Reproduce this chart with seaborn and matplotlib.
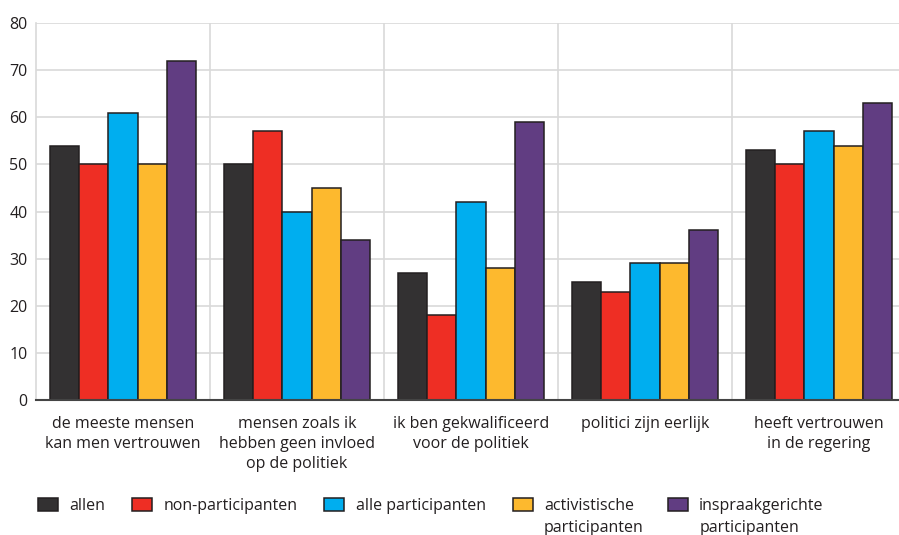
import matplotlib
matplotlib.use("Agg")
import matplotlib.pyplot as plt
import seaborn as sns
import pandas as pd
import numpy as np

categories = [
    "de meeste mensen\nkan men vertrouwen",
    "mensen zoals ik\nhebben geen invloed\nop de politiek",
    "ik ben gekwalificeerd\nvoor de politiek",
    "politici zijn eerlijk",
    "heeft vertrouwen\nin de regering",
]
series = ["allen", "non-participanten", "alle participanten",
          "activistische participanten", "inspraakgerichte participanten"]
legend_first = ["allen", "non-participanten", "alle participanten",
                "activistische", "inspraakgerichte"]
legend_second = ["", "", "", "participanten", "participanten"]
allen = [54, 50, 27, 25, 53]
non_participanten = [50, 57, 18, 23, 50]
alle_participanten = [61, 40, 42, 29, 57]
activistische = [50, 45, 28, 29, 54]
inspraakgerichte = [72, 34, 59, 36, 63]
colors = ["#333132", "#ee2e24", "#00aeef", "#fdb92e", "#613d82"]
yticks = [0, 10, 20, 30, 40, 50, 60, 70, 80]

values = [allen, non_participanten, alle_participanten, activistische, inspraakgerichte]
rows = []
for s, vals in zip(series, values):
    for c, v in zip(categories, vals):
        rows.append({"cat": c, "series": s, "val": v})
df = pd.DataFrame(rows)

sns.set_theme(style="white")
plt.rcParams["font.family"] = ["Open Sans", "DejaVu Sans"]
text_color = "#231f20"
fs = 11.5

W, H = 899, 535
fig = plt.figure(figsize=(W / 100, H / 100), dpi=100)
ax = fig.add_axes([36 / W, 1 - 400 / H, 1 - 36 / W, (400 - 23) / H])

sns.barplot(data=df, x="cat", y="val", hue="series", order=categories,
            hue_order=series, palette=colors, saturation=1, width=0.84,
            edgecolor="#231f20", linewidth=1.1, ax=ax, legend=True, zorder=3)

ax.set_xlim(-0.5, -0.5 + 863 / 174)
ax.set_ylim(0, 80)
ax.set_yticks(yticks)
ax.set_yticklabels([str(t) for t in yticks], fontsize=fs, color=text_color)
ax.set_xticks(range(len(categories)))
ax.set_xticklabels(categories, fontsize=fs, color=text_color, linespacing=1.35)
ax.set_xticks(np.arange(0.5, len(categories) - 0.5, 1), minor=True)
ax.set_xlabel("")
ax.set_ylabel("")

ax.grid(axis="y", which="major", color="#d9d9d9", linewidth=1.2, zorder=0)
ax.grid(axis="x", which="minor", color="#d9d9d9", linewidth=1.2, zorder=0)
ax.grid(axis="x", which="major", visible=False)
ax.set_axisbelow(True)
ax.tick_params(axis="y", length=0, pad=6)
ax.tick_params(axis="x", which="major", length=5.5, width=1, color=text_color, pad=6, direction="out")
ax.tick_params(axis="x", which="minor", length=0)

for side in ["top", "right"]:
    ax.spines[side].set_visible(False)
ax.spines["left"].set_color("#d9d9d9")
ax.spines["left"].set_linewidth(1.2)
ax.spines["bottom"].set_color("#444444")
ax.spines["bottom"].set_linewidth(1.5)
ax.spines["bottom"].set_zorder(5)

handles, labels = ax.get_legend_handles_labels()
ax.get_legend().remove()
leg_kw = dict(loc="center left", frameon=False, fontsize=fs, handlelength=1.25,
              handleheight=0.875, handletextpad=0.7, columnspacing=1.7,
              borderaxespad=0, borderpad=0, labelcolor=text_color)
leg1 = fig.legend(handles[:4], legend_first[:4], ncol=4,
                  bbox_to_anchor=(38 / W, 1 - 506 / H), **leg_kw)
leg2 = fig.legend(handles[4:], legend_first[4:], ncol=1,
                  bbox_to_anchor=(668 / W, 1 - 506 / H), **leg_kw)

fig.canvas.draw()
r = fig.canvas.get_renderer()
texts = list(leg1.get_texts()) + list(leg2.get_texts())
for t, second in zip(texts, legend_second):
    if second:
        bb = t.get_window_extent(r)
        fig.text(bb.x0 / W, (bb.y0 - 21.5) / H, second, fontsize=fs,
                 color=text_color, ha="left", va="bottom")

fig.savefig("out.png", dpi=100)
